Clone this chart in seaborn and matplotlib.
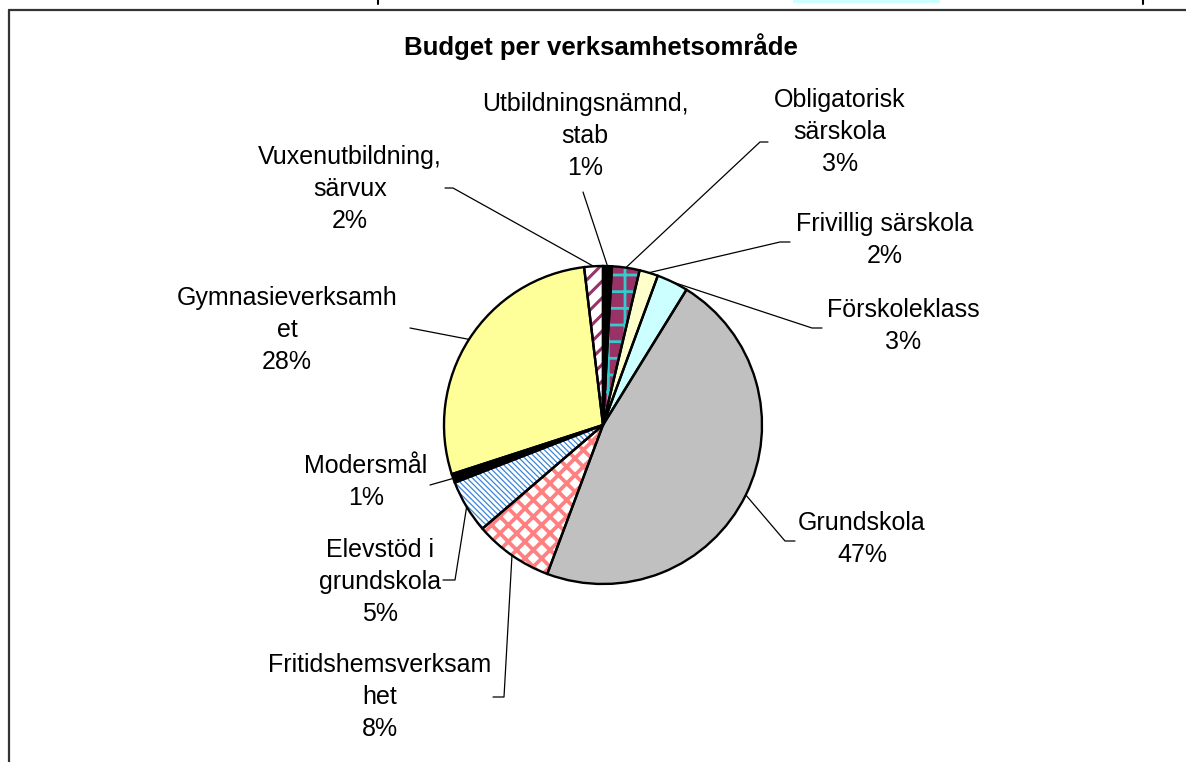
import numpy as np
import seaborn as sns
from matplotlib import pyplot as plt
from matplotlib.lines import Line2D
from matplotlib.patches import Rectangle

sns.set_theme(style="white")
plt.rcParams["font.family"] = ["Liberation Sans", "DejaVu Sans"]
plt.rcParams["text.color"] = "black"

# slices, clockwise from 12 o'clock
categories = [
    "Utbildningsnämnd,\nstab",
    "Obligatorisk\nsärskola",
    "Frivillig särskola",
    "Förskoleklass",
    "Grundskola",
    "Fritidshemsverksam\nhet",
    "Elevstöd i\ngrundskola",
    "Modersmål",
    "Gymnasieverksamh\net",
    "Vuxenutbildning,\nsärvux",
]
shares = [0.9, 2.8, 1.9, 3.2, 46.9, 8.0, 5.4, 0.9, 28.1, 1.9]

# look of each slice: face, hatch, hatch colour, hatch width
faces = ["black", "#993366", "#FFFFCC", "#CCFFFF", "#C0C0C0",
         "white", "white", "black", "#FFFF99", "white"]
hatches = [None, "+", None, None, None, "xx", "\\" * 6, None, None, "//"]
hatch_cols = ["black", "#33CCCC", "black", "black", "black",
              "#FF8080", "#3A86D9", "black", "black", "#993366"]
hatch_lw = [1, 2.0, 1, 1, 1, 2.7, 0.9, 1, 1, 2.2]

W, H = 1186, 762
# label centres and leader knees, in pixels from top-left
label_xy = [(585, 136), (840, 132), (885, 240), (903, 326), (862, 539),
            (380, 697), (380, 582), (366, 482), (287, 330), (350, 189)]
knees = [[(583, 192)], [(768, 142), (760, 142)], [(790, 242), (780, 242)],
         [(822, 328), (812, 328)], [(795, 541), (785, 541)],
         [(493, 697), (504, 697)], [(443, 580), (455, 580)], [(430, 485)],
         [(410, 328)], [(445, 188), (453, 188)]]

cx, cy, rad = 603, H - 425, 159

fig = plt.figure(figsize=(11.86, 7.62), dpi=100)
ax = fig.add_axes([0, 0, 1, 1])

wedges, _ = ax.pie(shares, startangle=90, counterclock=False,
                   center=(cx, cy), radius=rad, colors=faces,
                   wedgeprops=dict(linewidth=0))
for w, hc, ht, lw in zip(wedges, hatch_cols, hatches, hatch_lw):
    if ht:
        w.set_hatch(ht)
        w.set_edgecolor(hc)
        if hasattr(w, "set_hatch_linewidth"):
            w.set_hatch_linewidth(lw)

# black outlines on top
ax.pie(shares, startangle=90, counterclock=False, center=(cx, cy),
       radius=rad, colors=["none"] * len(shares),
       wedgeprops=dict(edgecolor="black", linewidth=1.7, fill=False))

total = sum(shares)
for w, name, v, (tx, ty), kn in zip(wedges, categories, shares, label_xy, knees):
    mid = np.deg2rad((w.theta1 + w.theta2) / 2)
    ex = cx + rad * np.cos(mid)
    ey = cy + rad * np.sin(mid)
    xs = [p[0] for p in kn] + [ex]
    ys = [H - p[1] for p in kn] + [ey]
    ax.plot(xs, ys, color="black", lw=0.9)
    ax.text(tx, H - ty, f"{name}\n{round(v / total * 100):.0f}%",
            ha="center", va="center", fontsize=18, linespacing=1.42,
            color="black")

ax.text(601, H - 47, "Budget per verksamhetsområde", ha="center",
        va="center", fontsize=18.5, fontweight="bold", color="black")

ax.set_xlim(0, W)
ax.set_ylim(0, H)
ax.set_aspect("equal")
ax.axis("off")

# chart frame and bits of the page above it
fig.add_artist(Line2D([9 / W, 1], [1 - 10 / H, 1 - 10 / H], color="#333333", lw=1.6))
fig.add_artist(Line2D([9 / W, 9 / W], [0, 1 - 10 / H], color="#333333", lw=1.6))
fig.add_artist(Line2D([378 / W, 378 / W], [1, 1 - 4 / H], color="black", lw=1.5))
fig.add_artist(Line2D([1143 / W, 1143 / W], [1, 1 - 4 / H], color="black", lw=1.5))
fig.add_artist(Rectangle((793 / W, 1 - 3 / H), 147 / W, 3 / H, color="#CCFFFF", lw=0))

fig.savefig("out.png", dpi=100)
